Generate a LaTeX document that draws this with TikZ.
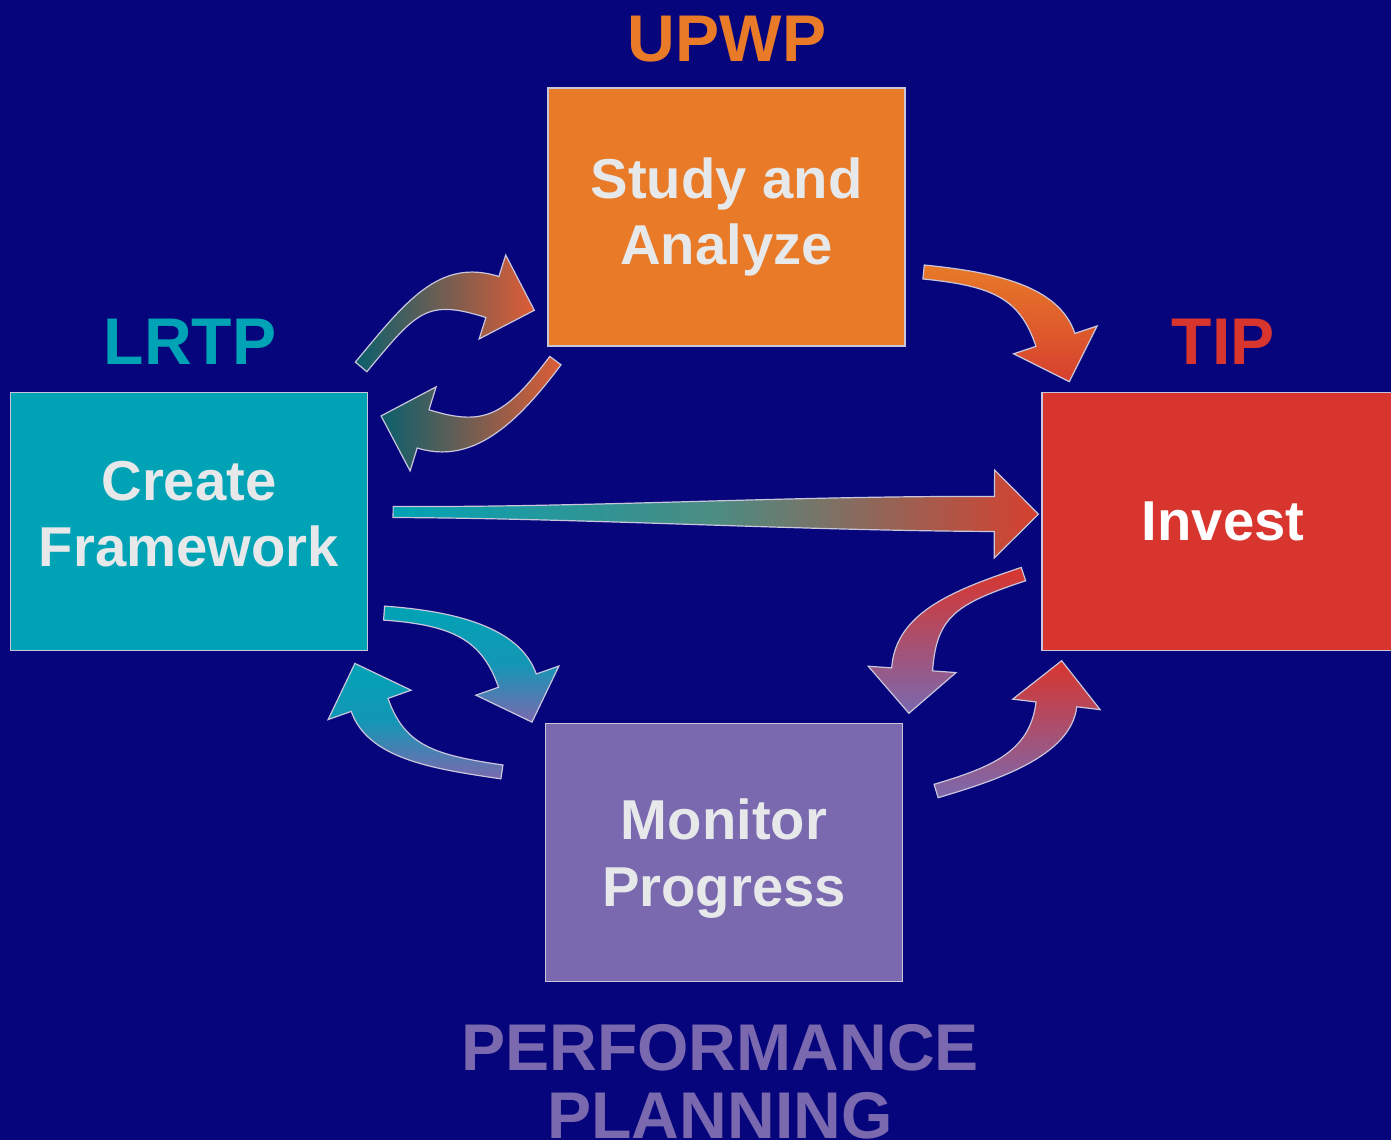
\documentclass[tikz,border=0pt]{standalone}
\usepackage{fontspec}
\setmainfont{Liberation Sans}
\usetikzlibrary{calc}

\definecolor{navy}{HTML}{06057B}
\definecolor{studycol}{HTML}{E87A28}
\definecolor{framecol}{HTML}{00A3B5}
\definecolor{investcol}{HTML}{D8352E}
\definecolor{monitorcol}{HTML}{7B69AF}
\definecolor{boxtext}{HTML}{E6E8EA}
\definecolor{rimcol}{HTML}{C9C6DC}
\definecolor{darkteal}{HTML}{0B5F6C}
\definecolor{rust}{HTML}{DE5C36}
\definecolor{redtip}{HTML}{D6402F}
\definecolor{midgreen}{HTML}{4C8C82}
\definecolor{tealmid}{HTML}{1496B5}

% tapered block arrow: [shading]{tail}{tail direction}{head base}{head direction}{tail half width}{base half width}
\newcommand\blockarrow[7][]{%
  \coordinate (ba p0) at #2;
  \coordinate (ba c1) at ($(ba p0)+#3$);
  \coordinate (ba p3) at #4;
  \coordinate (ba c2) at ($(ba p3)-#5$);
  \shadedraw[arrow body,#1]
    ($(ba p0)!#6!90:(ba c1)$)
    .. controls ($(ba c1)-(ba p0)+(ba p0)!#6!90:(ba c1)$)
    and ($(ba c2)-(ba p3)+(ba p3)!#7!-90:(ba c2)$) ..
    ($(ba p3)!#7!-90:(ba c2)$)
    -- ($(ba p3)!4.4mm!-90:(ba c2)$)
    -- ($(ba p3)!-4.4mm!(ba c2)$)
    -- ($(ba p3)!4.4mm!90:(ba c2)$)
    -- ($(ba p3)!#7!90:(ba c2)$)
    .. controls ($(ba c2)-(ba p3)+(ba p3)!#7!90:(ba c2)$)
    and ($(ba c1)-(ba p0)+(ba p0)!#6!-90:(ba c1)$) ..
    ($(ba p0)!#6!-90:(ba c1)$) -- cycle;
}

\begin{document}
\begin{tikzpicture}[x=0.1mm, y=-0.1mm,
	stage box/.style={draw=rimcol, line width=0.12mm, minimum width=35.7mm, minimum height=25.8mm,
		inner sep=0pt, align=center, text=boxtext, font=\bfseries\fontsize{16}{19}\selectfont},
	tag/.style={inner sep=0pt, align=center, font=\bfseries\fontsize{18.8}{19.35}\selectfont},
	arrow body/.style={draw=rimcol, line width=0.12mm, line join=miter}]
		\useasboundingbox (0,0) rectangle (1391,1140);
		\clip (0,0) rectangle (1391,1140);
		\fill[navy] (0,0) rectangle (1391,1140);
		
		%boxes
		\node (Study Analyze) at (726.5,217) [stage box, fill=studycol]{Study and\\Analyze};
		\node (Create Framework) at (189,521.5) [stage box, fill=framecol, text depth=4.4pt]{Create\\Framework};
		\node (Invest) at (1223,521.5) [stage box, minimum width=36.2mm, fill=investcol, text=white]{Invest};
		\node (Monitor Progress) at (724,852.5) [stage box, fill=monitorcol, text depth=0pt]{Monitor\\Progress};
		
		%plan names
		\node (UPWP) at (727,62) [tag, anchor=base, text=studycol]{UPWP};
		\node (LRTP) at (190,365) [tag, anchor=base, text=framecol]{LRTP};
		\node (TIP) at (1223,365) [tag, anchor=base, text=investcol]{TIP};
		\node (Performance Planning) at (720,1082) [tag, text=monitorcol]{PERFORMANCE\\PLANNING};
		
		%links
		\blockarrow[left color=darkteal, right color=rust]
			{($(Create Framework.north east)+(-7,-25)$)}{(50,-60)}
			{($(Study Analyze.west)+(-55,80)$)}{(60,19)}{0.75mm}{2.15mm}
		\blockarrow[left color=darkteal, right color=rust]
			{($(Study Analyze.south west)+(8,14)$)}{(-45,60)}
			{($(Create Framework.north east)+(55,37)$)}{(-55,-17)}{0.7mm}{2.0mm}
		\blockarrow[top color=studycol, bottom color=redtip]
			{($(Study Analyze.east)+(18,55)$)}{(70,7)}
			{($(Invest.north west)+(14,-52)$)}{(16,48)}{0.7mm}{2.05mm}
		\blockarrow[left color=framecol, right color=redtip, middle color=midgreen]
			{($(Create Framework.east)+(25,-9.5)$)}{(200,1)}
			{($(Invest.west)+(-47,-7.5)$)}{(200,1)}{0.55mm}{1.75mm}
		\blockarrow[top color=investcol, bottom color=monitorcol]
			{($(Invest.south west)+(-18,-77)$)}{(-69,23)}
			{($(Monitor Progress.north east)+(9,-53.5)$)}{(-4,55)}{0.7mm}{2.05mm}
		\blockarrow[top color=investcol, bottom color=monitorcol]
			{($(Monitor Progress.east)+(33,-61.5)$)}{(57,-17)}
			{($(Invest.south west)+(15,53.3)$)}{(6,-50)}{0.7mm}{2.05mm}
		\blockarrow[top color=framecol, bottom color=monitorcol, middle color=tealmid]
			{($(Create Framework.south east)+(16,-38)$)}{(70,5)}
			{($(Monitor Progress.north west)+(-27.5,-42.3)$)}{(16.5,47)}{0.7mm}{2.0mm}
		\blockarrow[top color=framecol, bottom color=monitorcol, middle color=tealmid]
			{($(Monitor Progress.north west)+(-43,49)$)}{(-69,-10)}
			{($(Create Framework.south east)+(1.5,53.8)$)}{(-16.7,-47.2)}{0.7mm}{1.95mm}
		
\end{tikzpicture}
\end{document}
